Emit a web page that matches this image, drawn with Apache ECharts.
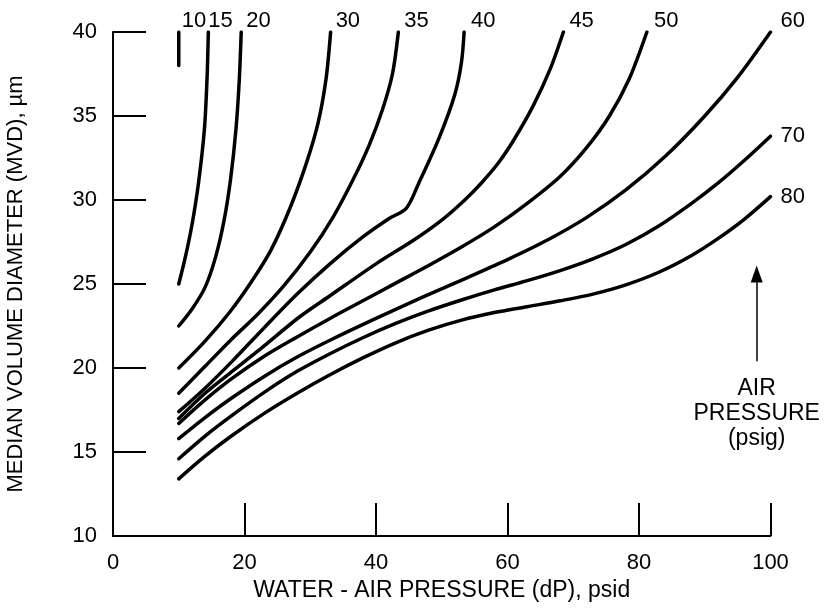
<!DOCTYPE html>
<html>
<head>
<meta charset="utf-8">
<title>MVD vs water - air pressure</title>
<script src="https://cdn.jsdelivr.net/npm/echarts@6/dist/echarts.min.js"></script>
<style>
html, body { margin: 0; padding: 0; background: #fff; }
#main { width: 826px; height: 612px; }
</style>
</head>
<body>
<div id="main"></div>
<script>
// air pressure (psig) of each curve
var airPressures = ['10', '15', '20', '30', '35', '40', '45', '50', '60', '70', '80'];

// points: [dP (psid), MVD (um)]
var p10 = [[10, 38], [10, 40]];
var p15 = [[10, 25], [11, 26.6], [12, 28.5], [13, 31], [13.9, 34.2], [14.3, 37.2], [14.5, 40]];
var p20 = [[10, 22.5], [12, 23.5], [14, 24.8], [15.6, 26.6], [16.9, 28.8], [17.9, 31.3], [18.7, 34.2], [19.2, 37.1], [19.5, 40]];
var p30 = [[10, 20], [14, 21.6], [17.8, 23.35], [21, 25.1], [24, 27], [27, 29.6], [29.5, 32.3], [31.2, 34.6], [32.4, 37.2], [33.1, 40]];
var p35 = [[10, 18.5], [14, 20.1], [18, 21.7], [22, 23.2], [26, 24.9], [30, 26.9], [33.5, 29], [36.5, 31.2], [39, 33.3], [41, 35.4], [42.5, 37.5], [43.4, 40]];
var p40 = [[10, 17.4], [14, 18.8], [18, 20.35], [23, 22.4], [28, 24.4], [33, 26.2], [38, 27.8], [42, 28.9], [44.6, 29.5], [46.5, 31], [49.6, 33.7], [52, 36.3], [53, 38.2], [53.4, 40]];
var p45 = [[10, 17], [14, 18.5], [17.8, 19.7], [22, 21], [28.4, 23.05], [33, 24.3], [40, 26.2], [45.7, 27.6], [50, 28.8], [53.5, 30], [56, 31], [58.6, 32.2], [61, 33.6], [63.9, 35.6], [66.5, 37.8], [68.5, 40]];
var p50 = [[10, 16.7], [14, 18.1], [18, 19.35], [23, 20.7], [28, 21.85], [33, 22.95], [38, 24], [43, 25.05], [48, 26.1], [53, 27.2], [58, 28.4], [63, 29.8], [68, 31.4], [72, 33.1], [75.5, 35], [78.5, 37.2], [81.2, 40]];
var p60 = [[10, 15.8], [14, 17.05], [18, 18.2], [23, 19.5], [28, 20.65], [33, 21.65], [40, 22.95], [47, 24.2], [54, 25.4], [60, 26.45], [66, 27.6], [72, 28.95], [78, 30.6], [84, 32.6], [90, 35], [95, 37.3], [100, 40]];
var p70 = [[10, 14.6], [14, 15.95], [18, 17.15], [23, 18.55], [28, 19.8], [33, 20.85], [38, 21.8], [43, 22.65], [48, 23.4], [53, 24.05], [58, 24.65], [63, 25.2], [68, 25.8], [73, 26.5], [78, 27.35], [83, 28.45], [88, 29.8], [92, 31], [96, 32.35], [100, 33.8]];
var p80 = [[10, 13.4], [14, 14.75], [18, 15.95], [23, 17.3], [28, 18.5], [33, 19.6], [38, 20.6], [43, 21.5], [48, 22.25], [53, 22.85], [58, 23.3], [63, 23.65], [68, 24], [73, 24.4], [78, 24.95], [83, 25.7], [88, 26.7], [92, 27.7], [96, 28.85], [100, 30.2]];

// axis ticks
var xTicks = [0, 20, 40, 60, 80, 100];
var yTicks = [10, 15, 20, 25, 30, 35, 40];

// "AIR PRESSURE" arrow: x and [bottom, head centre] in data units
var arrowX = 97.9;
var arrowY = [20.4, 25.6];

init();

function init() {
    var myChart = echarts.init(document.getElementById('main'));
    var font = "'Liberation Sans', Arial, Helvetica, sans-serif";
    var curves = [p10, p15, p20, p30, p35, p40, p45, p50, p60, p70, p80];
    // label gap to the right of each curve end
    var gaps = [3, 0, 5, 5, 6, 7, 6, 7, 10, 10, 10];
    var series = [];

    for (var i = 0; i < curves.length; i++) {
        var atRight = airPressures[i] === '70' || airPressures[i] === '80';
        series.push({
            name: airPressures[i],
            type: 'line',
            data: curves[i],
            showSymbol: false,
            smooth: 0.3,
            lineStyle: { color: '#000', width: 3.5, cap: 'round' },
            endLabel: {
                show: true,
                formatter: '{a}',
                color: '#000',
                fontSize: 22,
                fontFamily: font,
                distance: gaps[i],
                verticalAlign: atRight ? 'middle' : 'bottom',
                padding: airPressures[i] === '70' ? [10, 0, 0, 0] : [0, 0, 0, 0]
            },
            silent: true
        });
    }

    series.push({
        name: 'arrow',
        type: 'line',
        data: [],
        silent: true,
        markLine: {
            silent: true,
            symbol: ['none', 'triangle'],
            symbolSize: [12, 17],
            lineStyle: { color: '#000', width: 1.5, type: 'solid' },
            label: {
                show: true,
                position: 'start',
                distance: 15,
                formatter: 'AIR\nPRESSURE\n(psig)',
                color: '#000',
                fontSize: 23,
                lineHeight: 25,
                fontFamily: font
            },
            data: [[{ coord: [arrowX, arrowY[0]] }, { coord: [arrowX, arrowY[1]] }]]
        }
    });

    myChart.setOption({
        animation: false,
        backgroundColor: '#fff',
        grid: { left: 113, right: 55.5, top: 32, bottom: 76, outerBoundsMode: 'none', containLabel: false },
        xAxis: {
            type: 'value',
            min: xTicks[0],
            max: xTicks[xTicks.length - 1],
            interval: xTicks[1] - xTicks[0],
            name: 'WATER - AIR PRESSURE (dP), psid',
            nameLocation: 'middle',
            nameGap: 40,
            nameTextStyle: { color: '#000', fontSize: 23, fontFamily: font },
            axisLine: { lineStyle: { color: '#000', width: 2 } },
            axisTick: { inside: true, length: 33, lineStyle: { color: '#000', width: 2 } },
            axisLabel: { color: '#000', fontSize: 22, fontFamily: font, margin: 16 },
            splitLine: { show: false }
        },
        yAxis: {
            type: 'value',
            min: yTicks[0],
            max: yTicks[yTicks.length - 1],
            interval: yTicks[1] - yTicks[0],
            name: 'MEDIAN VOLUME DIAMETER (MVD), \u00b5m',
            nameLocation: 'middle',
            nameGap: 86,
            nameTextStyle: { color: '#000', fontSize: 22, fontFamily: font },
            axisLine: { show: true, lineStyle: { color: '#000', width: 2 } },
            axisTick: { show: true, inside: true, length: 33, lineStyle: { color: '#000', width: 2 } },
            axisLabel: { color: '#000', fontSize: 22, fontFamily: font, margin: 16 },
            splitLine: { show: false }
        },
        series: series
    });
}
</script>
</body>
</html>
